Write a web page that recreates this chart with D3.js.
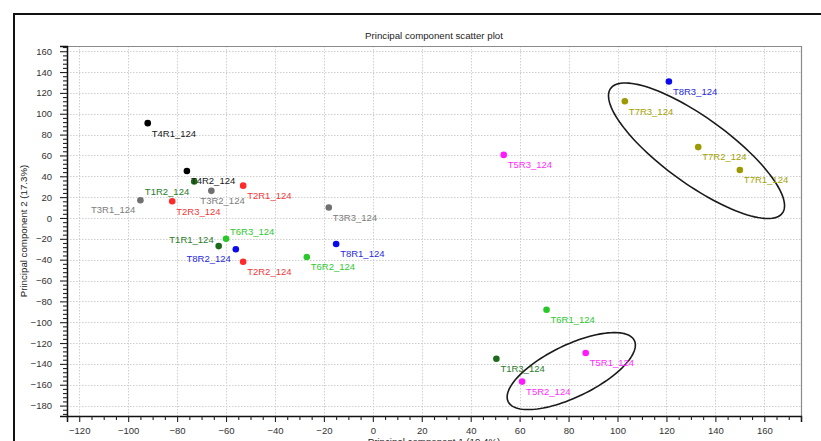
<!DOCTYPE html>
<html>
<head>
<meta charset="utf-8">
<script src="https://cdn.jsdelivr.net/npm/d3@7"></script>
<style>
  body { margin: 0; background: #fff; }
  text { font-family: Arial, "Liberation Sans", sans-serif; }
</style>
</head>
<body>
<svg id="chart" width="821" height="441"></svg>
<script>
// PCA scores per sample
const samples = ["T4R1_124","T4R2_124","T1R2_124","T3R2_124","T2R1_124","T3R1_124","T2R3_124",
                 "T3R3_124","T6R3_124","T1R1_124","T8R2_124","T2R2_124","T6R2_124","T8R1_124",
                 "T5R3_124","T8R3_124","T7R3_124","T7R2_124","T7R1_124","T6R1_124","T1R3_124",
                 "T5R1_124","T5R2_124"];
const pc1 = [-92, -76, -73, -66, -53, -95, -82, -18, -60, -63, -56, -53, -27, -15,
             53.5, 121, 103, 133, 150, 71, 50.5, 87, 61];
const pc2 = [91, 45, 35, 26, 31, 17, 16, 10, -20, -27, -30, -42, -37.5, -25,
             60.5, 131, 112, 68, 46, -88, -135, -129.5, -157];
const groups = ["T4","T4","T1","T3","T2","T3","T2","T3","T6","T1","T8","T2","T6","T8",
                "T5","T8","T7","T7","T7","T6","T1","T5","T5"];

// Axis ticks
const xTicks = d3.range(-120, 161, 20);
const yTicks = d3.range(-180, 161, 20);

// Group ellipses (center and two half-axis vectors, in PC units)
const ellipseCenters = [[132.3, 64.5], [81.1, -146.9]];
const ellipseAxisA = [[35.1, -59.8], [25.8, 29.3]];
const ellipseAxisB = [[-7.9, -25.6], [4.6, -22.5]];

const groupColors = {
  T1: "#1c6b1c", T2: "#ff2b2b", T3: "#707070", T4: "#000000",
  T5: "#ff19ff", T6: "#27c827", T7: "#9c9a00", T8: "#0a0aee"
};
const labelColors = {
  T1: "#2a7d2a", T2: "#f23a3a", T3: "#7c7c7c", T4: "#1a1a1a",
  T5: "#ff2cff", T6: "#2fc82f", T7: "#a5a300", T8: "#2a2ae0"
};
// label placement relative to the point
const labelPlace = {
  "T1R2_124": "bl", "T3R1_124": "bl", "T8R2_124": "bl", "T3R2_124": "bc",
  "T6R3_124": "tr", "T1R1_124": "tl"
};

const svg = d3.select("#chart");
const W = 821, H = 441;
const m = { left: 67, right: 801, top: 46, bottom: 416 };

// outer frame
svg.append("rect").attr("x", 14).attr("y", 14).attr("width", W).attr("height", H)
  .attr("fill", "none").attr("stroke", "#111").attr("stroke-width", 2);

const x = d3.scaleLinear().domain([-125, 175]).range([m.left, m.right]);
const y = d3.scaleLinear().domain([-190, 165]).range([m.bottom, m.top]);

// title
svg.append("text").attr("x", (m.left + m.right) / 2).attr("y", 39)
  .attr("text-anchor", "middle").attr("font-size", 9.7).attr("fill", "#222")
  .text("Principal component scatter plot");

// grid
const grid = svg.append("g").attr("stroke", "#cfcfcf").attr("stroke-width", 1)
  .attr("stroke-dasharray", "1.5,1.5");
grid.selectAll("line.v").data(xTicks).join("line").attr("class", "v")
  .attr("x1", d => Math.round(x(d)) + 0.5).attr("x2", d => Math.round(x(d)) + 0.5)
  .attr("y1", m.top).attr("y2", m.bottom);
grid.selectAll("line.h").data(yTicks).join("line").attr("class", "h")
  .attr("y1", d => Math.round(y(d)) + 0.5).attr("y2", d => Math.round(y(d)) + 0.5)
  .attr("x1", m.left).attr("x2", m.right);

// plot border (top/right)
svg.append("path")
  .attr("d", `M${m.left},${m.top + 0.5}H${m.right + 0.5}V${m.bottom}`)
  .attr("fill", "none").attr("stroke", "#8a8a8a").attr("stroke-width", 1.2);

// minor ticks
const xMinor = d3.range(-125, 176, 5).filter(v => v % 20 !== 0);
const yMinor = d3.range(-188, 165, 4).filter(v => v % 20 !== 0);

svg.append("g").attr("transform", `translate(0,${m.bottom})`)
  .call(d3.axisBottom(x).tickValues(xTicks).tickSize(6).tickPadding(5).tickFormat(d3.format("d")));
svg.append("g").attr("transform", `translate(0,${m.bottom})`)
  .call(d3.axisBottom(x).tickValues(xMinor).tickSize(4).tickFormat(""))
  .call(g => g.select(".domain").remove());

svg.append("g").attr("transform", `translate(${m.left},0)`)
  .call(d3.axisLeft(y).tickValues(yTicks).tickSize(7).tickPadding(8).tickFormat(d3.format("d")));
svg.append("g").attr("transform", `translate(${m.left},0)`)
  .call(d3.axisLeft(y).tickValues(yMinor).tickSize(4).tickFormat(""))
  .call(g => g.select(".domain").remove());

svg.selectAll(".domain").attr("stroke", "#111").attr("stroke-width", 1.5);
svg.selectAll(".tick line").attr("stroke", "#222").attr("stroke-width", 1.1);
svg.selectAll(".tick text").attr("font-size", 9.5).attr("fill", "#333")
  .attr("font-family", "Arial, 'Liberation Sans', sans-serif");

// axis titles
svg.append("text").attr("x", (m.left + m.right) / 2).attr("y", 445)
  .attr("text-anchor", "middle").attr("font-size", 9.7).attr("fill", "#222")
  .text("Principal component 1 (19.4%)");
svg.append("text")
  .attr("transform", `translate(27,${(m.top + m.bottom) / 2}) rotate(-90)`)
  .attr("text-anchor", "middle").attr("font-size", 9.7).attr("fill", "#222")
  .text("Principal component 2 (17.3%)");

// ellipses
const line = d3.line().x(p => x(p[0])).y(p => y(p[1])).curve(d3.curveLinearClosed);
ellipseCenters.forEach((c, i) => {
  const a = ellipseAxisA[i], b = ellipseAxisB[i];
  const pts = d3.range(0, 120).map(k => {
    const t = k / 120 * 2 * Math.PI;
    return [c[0] + Math.cos(t) * a[0] + Math.sin(t) * b[0],
            c[1] + Math.cos(t) * a[1] + Math.sin(t) * b[1]];
  });
  svg.append("path").attr("d", line(pts)).attr("fill", "none")
    .attr("stroke", "#1a1a1a").attr("stroke-width", 1.6);
});

// points and labels
const data = samples.map((s, i) => ({ name: s, x: pc1[i], y: pc2[i], g: groups[i] }));

svg.append("g").selectAll("circle").data(data).join("circle")
  .attr("cx", d => x(d.x)).attr("cy", d => y(d.y)).attr("r", 3.3)
  .attr("fill", d => groupColors[d.g]);

const place = {
  br: { dx: 4, dy: 13.4, anchor: "start" },
  bl: { dx: -5, dy: 13.2, anchor: "end" },
  bc: { dx: -11, dy: 13.4, anchor: "start" },
  tr: { dx: 4, dy: -3.4, anchor: "start" },
  tl: { dx: -5, dy: -3.6, anchor: "end" }
};
svg.append("g").selectAll("text").data(data).join("text")
  .each(function (d) {
    const p = place[labelPlace[d.name] || "br"];
    d3.select(this).attr("x", x(d.x) + p.dx).attr("y", y(d.y) + p.dy)
      .attr("text-anchor", p.anchor);
  })
  .attr("font-size", 9.5).attr("fill", d => labelColors[d.g])
  .text(d => d.name);
</script>
</body>
</html>
